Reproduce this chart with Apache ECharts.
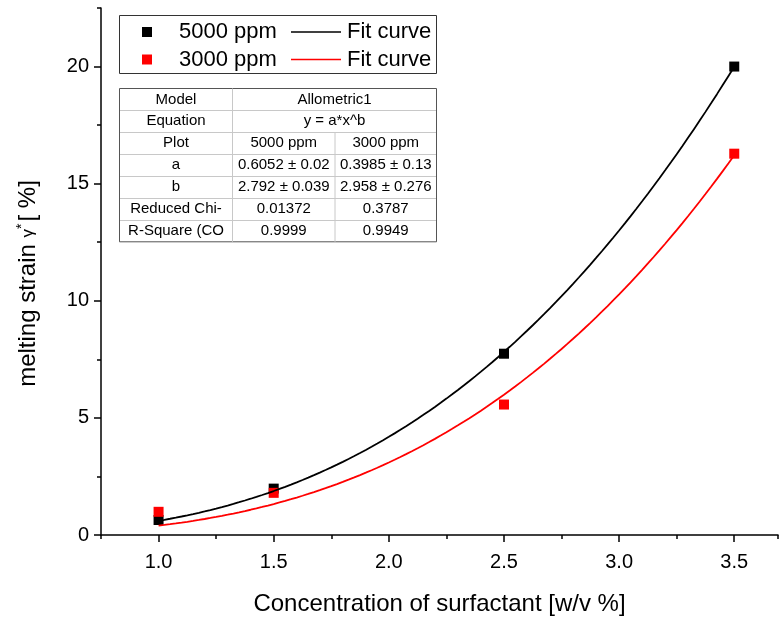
<!DOCTYPE html>
<html>
<head>
<meta charset="utf-8">
<script src="https://cdn.jsdelivr.net/npm/echarts@6/dist/echarts.min.js"></script>
<style>html,body{margin:0;padding:0;background:#fff}#c{width:781px;height:621px}</style>
</head>
<body>
<div id="c"></div>
<script>
// ---- data ----
var xValues = [1.0, 1.5, 2.5, 3.5];
var strain5000 = [0.64, 1.98, 7.74, 20.0];
var strain3000 = [0.99, 1.80, 5.57, 16.28];
var seriesNames = ['5000 ppm', '3000 ppm'];
var fitA = [0.6052, 0.3985];
var fitB = [2.792, 2.958];
var xTickLabels = [1.0, 1.5, 2.0, 2.5, 3.0, 3.5];
var yTickLabels = [0, 5, 10, 15, 20];
var tableRows = [
  ['Model', 'Allometric1'],
  ['Equation', 'y = a*x^b'],
  ['Plot', '5000 ppm', '3000 ppm'],
  ['a', '0.6052 \u00b1 0.02', '0.3985 \u00b1 0.13'],
  ['b', '2.792 \u00b1 0.039', '2.958 \u00b1 0.276'],
  ['Reduced Chi-', '0.01372', '0.3787'],
  ['R-Square (CO', '0.9999', '0.9949']
];
var colors = ['#000000', '#ff0000'];

// fit curves evaluated from the fitted model y = a*x^b shown in the table
function fitCurve(a, b) {
  var pts = [];
  for (var i = 0; i <= 100; i++) {
    var x = 1.0 + 2.5 * i / 100;
    pts.push([x, a * Math.pow(x, b)]);
  }
  return pts;
}

var FONT = "'Liberation Sans', Arial, sans-serif";
var chart = echarts.init(document.getElementById('c'), null, {renderer: 'canvas'});

// ---- legend & table graphics ----
var g = [];
var lx0 = 119.5, lx1 = 436.5, ly0 = 15.5, ly1 = 73.5;
g.push({type: 'rect', shape: {x: lx0, y: ly0, width: lx1 - lx0, height: ly1 - ly0},
  style: {fill: '#fff', stroke: '#333', lineWidth: 1}, z: 100});
var rowsY = [32, 59.5];
for (var k = 0; k < 2; k++) {
  var cy = rowsY[k];
  g.push({type: 'rect', shape: {x: 142, y: cy - 5, width: 10, height: 10}, style: {fill: colors[k]}, z: 101});
  g.push({type: 'text', x: 179, y: cy, style: {text: seriesNames[k], font: '22px ' + FONT, fill: '#000', verticalAlign: 'middle'}, z: 101});
  g.push({type: 'line', shape: {x1: 291, y1: cy, x2: 341, y2: cy}, style: {stroke: colors[k], lineWidth: 1.5}, z: 101});
  g.push({type: 'text', x: 347, y: cy, style: {text: 'Fit curve', font: '22px ' + FONT, fill: '#000', verticalAlign: 'middle'}, z: 101});
}

var tx = [119.5, 232.5, 335, 436.5];
var ty0 = 88.5, rh = 21.9;
var tyEnd = ty0 + rh * tableRows.length;
g.push({type: 'rect', shape: {x: tx[0], y: ty0, width: tx[3] - tx[0], height: tyEnd - ty0},
  style: {fill: '#fff', stroke: '#555', lineWidth: 1}, z: 100});
for (var r = 0; r < tableRows.length; r++) {
  var y0 = ty0 + rh * r;
  if (r > 0) {
    g.push({type: 'line', shape: {x1: tx[0] + 0.5, y1: Math.round(y0) + 0.5, x2: tx[3] - 0.5, y2: Math.round(y0) + 0.5}, style: {stroke: '#c8c8c8', lineWidth: 1}, z: 101});
  }
  var row = tableRows[r];
  var cyc = y0 + rh / 2;
  g.push({type: 'text', x: (tx[0] + tx[1]) / 2, y: cyc, style: {text: row[0], font: '15px ' + FONT, fill: '#000', align: 'center', verticalAlign: 'middle'}, z: 102});
  if (row.length === 2) {
    g.push({type: 'text', x: (tx[1] + tx[3]) / 2, y: cyc, style: {text: row[1], font: '15px ' + FONT, fill: '#000', align: 'center', verticalAlign: 'middle'}, z: 102});
  } else {
    g.push({type: 'text', x: (tx[1] + tx[2]) / 2, y: cyc, style: {text: row[1], font: '15px ' + FONT, fill: '#000', align: 'center', verticalAlign: 'middle'}, z: 102});
    g.push({type: 'text', x: (tx[2] + tx[3]) / 2, y: cyc, style: {text: row[2], font: '15px ' + FONT, fill: '#000', align: 'center', verticalAlign: 'middle'}, z: 102});
  }
}
g.push({type: 'line', shape: {x1: tx[1], y1: ty0, x2: tx[1], y2: tyEnd}, style: {stroke: '#c8c8c8', lineWidth: 1}, z: 101});
g.push({type: 'line', shape: {x1: tx[2], y1: ty0 + rh * 2, x2: tx[2], y2: tyEnd}, style: {stroke: '#c8c8c8', lineWidth: 1}, z: 101});

var axisLineStyle = {color: '#000', width: 1.5};

var option = {
  animation: false,
  backgroundColor: '#fff',
  grid: {left: 101, top: 8, right: 0, bottom: 80, containLabel: false},
  xAxis: [{
    type: 'value', min: 0.75, max: 3.69, interval: 0.25,
    name: 'Concentration of surfactant [w/v %]', nameLocation: 'middle', nameGap: 57,
    nameTextStyle: {fontFamily: FONT, fontSize: 24, color: '#000'},
    axisLine: {show: true, lineStyle: axisLineStyle},
    axisTick: {show: true, length: 4, lineStyle: {color: '#000', width: 1.5}},
    axisLabel: {
      fontFamily: FONT, fontSize: 20, color: '#000', margin: 17,
      formatter: function (v) {
        for (var i = 0; i < xTickLabels.length; i++) { if (Math.abs(xTickLabels[i] - v) < 1e-6) return v.toFixed(1); }
        return '';
      }
    },
    splitLine: {show: false}
  }, {
    type: 'value', min: 0.75, max: 3.69, interval: 0.25, position: 'bottom',
    axisLine: {show: false},
    axisTick: {show: true, length: 7, customValues: xTickLabels, lineStyle: {color: '#000', width: 1.5}},
    axisLabel: {show: false},
    splitLine: {show: false}
  }],
  yAxis: [{
    type: 'value', min: 0, max: 22.5, interval: 2.5,
    name: 'melting strain {g|\u03b3}{sup|*}[ %]', nameLocation: 'middle', nameGap: 60,
    nameTextStyle: {fontFamily: FONT, fontSize: 24, color: '#000', padding: [0, 24, 0, 0],
      rich: {
        g: {fontFamily: FONT, fontSize: 17, color: '#000'},
        sup: {fontFamily: FONT, fontSize: 14, color: '#000', verticalAlign: 'top', padding: [0, 2, 12, 0]}
      }},
    axisLine: {show: true, lineStyle: axisLineStyle},
    axisTick: {show: true, length: 4, lineStyle: {color: '#000', width: 1.5}},
    axisLabel: {
      fontFamily: FONT, fontSize: 20, color: '#000', margin: 12,
      formatter: function (v) {
        for (var i = 0; i < yTickLabels.length; i++) { if (Math.abs(yTickLabels[i] - v) < 1e-6) return String(v); }
        return '';
      }
    },
    splitLine: {show: false}
  }, {
    type: 'value', min: 0, max: 22.5, interval: 2.5, position: 'left',
    axisLine: {show: false},
    axisTick: {show: true, length: 7, customValues: yTickLabels, lineStyle: {color: '#000', width: 1.5}},
    axisLabel: {show: false},
    splitLine: {show: false}
  }],
  series: [
    {name: seriesNames[0], type: 'scatter', symbol: 'rect', symbolSize: 10, itemStyle: {color: colors[0], opacity: 1},
      data: xValues.map(function (x, i) { return [x, strain5000[i]]; }), z: 2},
    {name: seriesNames[1], type: 'scatter', symbol: 'rect', symbolSize: 10, itemStyle: {color: colors[1], opacity: 1},
      data: xValues.map(function (x, i) { return [x, strain3000[i]]; }), z: 2},
    {name: 'Fit curve (5000 ppm)', type: 'line', showSymbol: false, smooth: false,
      lineStyle: {color: colors[0], width: 1.8}, data: fitCurve(fitA[0], fitB[0]), z: 3},
    {name: 'Fit curve (3000 ppm)', type: 'line', showSymbol: false, smooth: false,
      lineStyle: {color: colors[1], width: 1.8}, data: fitCurve(fitA[1], fitB[1]), z: 3}
  ],
  graphic: {elements: g}
};
chart.setOption(option);
</script>
</body>
</html>
